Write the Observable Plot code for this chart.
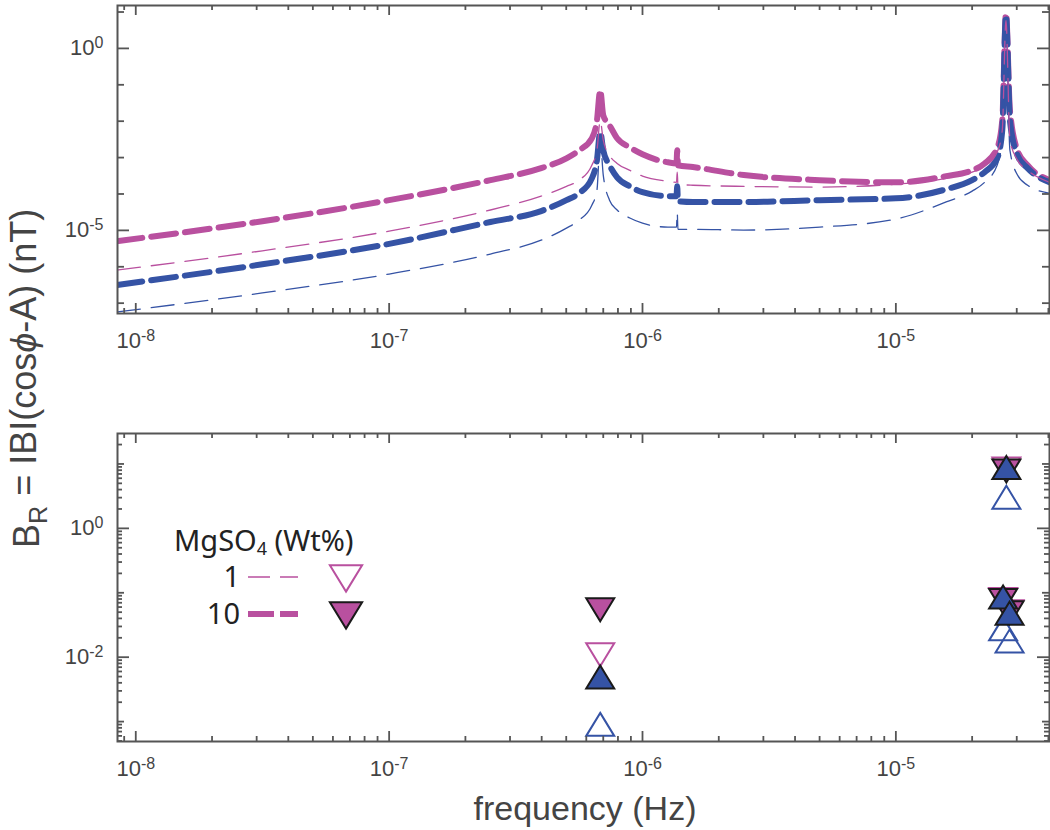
<!DOCTYPE html>
<html><head><meta charset="utf-8">
<script src="https://cdn.jsdelivr.net/npm/d3@7"></script>
<script src="https://cdn.jsdelivr.net/npm/@observablehq/plot@0.6"></script>
<style>
body{margin:0;background:#fff;}
#wrap{position:relative;width:1050px;height:830px;overflow:hidden;background:#fff;}
.panel{position:absolute;left:0;}
#overlay{position:absolute;left:0;top:0;pointer-events:none;}
</style></head><body><div id="wrap"></div>
<script>
// ---------------- data ----------------
const xLimits = [8.47e-9, 4.04e-5];
const yLimitsTop = [5.2e-8, 15.1];
const yLimitsBottom = [4.91e-4, 29.7];

// response curves (frequency in Hz, B_R in nT)
const freq = [8.47e-9, 3.16e-8, 1.0e-7, 2.51e-7, 3.98e-7, 5.01e-7, 5.62e-7, 6.31e-7, 6.61e-7, 6.81e-7,
  7.0e-7, 7.41e-7, 7.94e-7, 8.91e-7, 1.0e-6, 1.26e-6, 1.362e-6, 1.371e-6, 1.380e-6, 1.58e-6,
  2.51e-6, 5.01e-6, 1.0e-5, 1.58e-5, 2.0e-5, 2.24e-5, 2.51e-5, 2.63e-5, 2.72e-5, 2.82e-5,
  3.02e-5, 3.31e-5, 4.04e-5];
const mag10 = [5.07e-6, 1.79e-5, 6.76e-5, 2.40e-4, 5.13e-4, 9.55e-4, 1.58e-3, 3.39e-3, 1.05e-2, 7.08e-2,
  1.45e-2, 7.76e-3, 3.39e-3, 1.91e-3, 1.23e-3, 7.41e-4, 6.92e-4, 1.58e-3, 6.17e-4, 5.50e-4,
  3.31e-4, 2.40e-4, 2.09e-4, 3.09e-4, 4.47e-4, 6.92e-4, 1.82e-3, 1.05e-2, 9.12, 2.0e-2,
  1.58e-3, 6.17e-4, 2.40e-4];
const mag1 = [8.13e-7, 2.75e-6, 9.55e-6, 3.63e-5, 8.71e-5, 1.62e-4, 2.40e-4, 6.17e-4, 1.58e-3, 1.05e-2,
  3.02e-3, 1.15e-3, 6.92e-4, 4.47e-4, 3.09e-4, 2.24e-4, 2.09e-4, 3.98e-4, 1.86e-4, 1.74e-4,
  1.62e-4, 1.55e-4, 1.86e-4, 2.69e-4, 3.98e-4, 5.75e-4, 1.41e-3, 5.62e-3, 5.89, 3.02e-3,
  8.51e-4, 4.47e-4, 2.09e-4];
const blue10 = [3.16e-7, 1.17e-6, 4.27e-6, 1.70e-5, 3.39e-5, 6.76e-5, 1.05e-4, 2.69e-4, 8.51e-4, 5.01e-3,
  1.58e-3, 6.17e-4, 2.88e-4, 1.62e-4, 1.12e-4, 8.71e-5, 8.71e-5, 1.62e-4, 6.31e-5, 6.03e-5,
  6.03e-5, 6.76e-5, 7.59e-5, 1.35e-4, 2.40e-4, 3.98e-4, 9.55e-4, 5.62e-3, 8.13, 1.05e-2,
  1.15e-3, 5.13e-4, 2.09e-4];
const blue1 = [5.75e-8, 1.91e-7, 6.31e-7, 2.24e-6, 5.37e-6, 1.15e-5, 1.91e-5, 4.90e-5, 1.26e-4, 3.02e-3,
  3.31e-4, 6.76e-5, 3.63e-5, 2.19e-5, 1.58e-5, 1.23e-5, 1.23e-5, 3.16e-5, 1.07e-5, 1.07e-5,
  1.02e-5, 1.23e-5, 2.04e-5, 6.03e-5, 1.20e-4, 2.09e-4, 6.17e-4, 3.02e-3, 5.89, 1.58e-3,
  3.31e-4, 1.74e-4, 1.05e-4];

// peak amplitudes (bottom panel)
const markerFreq = [6.81e-7, 2.73e-5, 2.65e-5, 2.81e-5];
const peakMag1   = [0.0125, 9.6, 0.09, 0.058];
const peakMag10  = [0.0624, 8.9, 0.087, 0.056];
const peakBlue1  = [7.9e-4, 2.65, 0.024, 0.0155];
const peakBlue10 = [0.0043, 7.7, 0.075, 0.042];

const labelTicksX = [1e-8, 1e-7, 1e-6, 1e-5];
const labelTicksYTop = [1e-5, 1];
const labelTicksYBottom = [1e-2, 1];
const legendLabels = ["1", "10"];
const legendTitle = "MgSO";

// ---------------- styles ----------------
const MAG = "#B9509F", BLUE = "#3553A5", AX = "#555", TXT = "#444";
const FONT = "'Liberation Sans', Arial, sans-serif";
const W = 1050, H = 350, MT = 5, MB = 37, ML = 117, MR = 1;
const FH = H - MT - MB, FW = W - ML - MR;

const inDom = (v, dom) => v >= dom[0] * 0.9999 && v <= dom[1] * 1.0001;
function logTicks(dom, subs) {
  const out = [];
  for (let k = Math.floor(Math.log10(dom[0])) - 1; k <= Math.ceil(Math.log10(dom[1])); k++)
    for (const s of subs) { const v = s * Math.pow(10, k); if (inDom(v, dom)) out.push(v); }
  return out;
}
const fmt = d => "10^" + Math.round(Math.log10(d));

const triUp = { draw(ctx, size) { const r = Math.sqrt(size / Math.PI); const w = 1.4 * r, h = 2.3 * r;
  ctx.moveTo(0, -2 * h / 3); ctx.lineTo(w, h / 3); ctx.lineTo(-w, h / 3); ctx.closePath(); } };
const triDown = { draw(ctx, size) { const r = Math.sqrt(size / Math.PI); const w = 1.4 * r, h = 2.3 * r;
  ctx.moveTo(0, 2 * h / 3); ctx.lineTo(w, -h / 3); ctx.lineTo(-w, -h / 3); ctx.closePath(); } };

function tickRules(yMajor, yMid, yMinor) {
  const xMaj = labelTicksX.filter(v => inDom(v, xLimits));
  const xMin = logTicks(xLimits, [2, 3, 4, 5, 6, 7, 8, 9]);
  const st = { stroke: AX, strokeWidth: 1.8 };
  const out = [];
  for (const [arr, len] of [[xMaj, 10], [xMin, 5]]) {
    out.push(Plot.ruleX(arr, { ...st, insetTop: FH - len }));
    out.push(Plot.ruleX(arr, { ...st, insetBottom: FH - len }));
  }
  for (const [arr, len] of [[yMajor, 12], [yMid, 7], [yMinor, 5]]) {
    if (!arr.length) continue;
    out.push(Plot.ruleY(arr, { ...st, insetRight: FW - len }));
    out.push(Plot.ruleY(arr, { ...st, insetLeft: FW - len }));
  }
  return out;
}

function makePanel(yDom, yLabels, yMid, yMinor, marks) {
  return Plot.plot({
    width: W, height: H, marginTop: MT, marginBottom: MB, marginLeft: ML, marginRight: MR,
    x: { type: "log", domain: xLimits, axis: null },
    y: { type: "log", domain: yDom, axis: null },
    style: { fontFamily: FONT, fontSize: "22px", color: TXT, background: "transparent", overflow: "visible" },
    marks: [
      ...marks,
      Plot.frame({ stroke: AX, strokeWidth: 2 }),
      ...tickRules(yLabels, yMid, yMinor),
      Plot.axisX(labelTicksX, { tickSize: 0, tickPadding: 19, tickFormat: fmt, label: null }),
      Plot.axisY(yLabels, { tickSize: 0, tickPadding: 14, tickFormat: fmt, label: null })
    ]
  });
}

function supify(svg) {
  d3.select(svg).selectAll('g[aria-label$="tick label"] text').each(function () {
    const t = this.textContent; const parts = t.split("^"); if (parts.length < 2) return;
    const s = d3.select(this); s.text(null);
    s.style("font-size", "22px").style("font-family", FONT).style("fill", TXT);
    s.append("tspan").text(parts[0]);
    s.append("tspan").attr("dy", "-0.45em").style("font-size", "16px").text(parts[1]);
  });
}

// ---------------- top panel ----------------
const rows = freq.map((f, i) => ({ f, m10: mag10[i], m1: mag1[i], b10: blue10[i], b1: blue1[i] }));
const lineOpt = (key, color, thick) => Plot.line(rows, {
  x: "f", y: key, stroke: color, curve: "monotone-x", clip: true,
  strokeWidth: thick ? 6 : 1.3, strokeDasharray: thick ? "25,9" : "23,11"
});
const topMid = logTicks(yLimitsTop, [1]).filter(v => !labelTicksYTop.some(t => Math.abs(t - v) / t < 1e-6));
const topPlot = makePanel(yLimitsTop, labelTicksYTop, topMid, [], [
  lineOpt("m10", MAG, true),
  lineOpt("b10", BLUE, true),
  lineOpt("b1", BLUE, false),
  lineOpt("m1", MAG, false)
]);
topPlot.classList.add("panel"); topPlot.style.top = "0px";

// ---------------- bottom panel ----------------
const peaks = markerFreq.map((f, i) => ({ f, m1: peakMag1[i], m10: peakMag10[i], b1: peakBlue1[i], b10: peakBlue10[i] }));
const botMid = logTicks(yLimitsBottom, [1]).filter(v => !labelTicksYBottom.some(t => Math.abs(t - v) / t < 1e-6));
const botMinor = logTicks(yLimitsBottom, [2, 3, 4, 5, 6, 7, 8, 9]);
const bottomPlot = makePanel(yLimitsBottom, labelTicksYBottom, botMid, botMinor, [
  Plot.dot(peaks, { x: "f", y: "m1", symbol: triDown, r: 10, fill: "none", stroke: MAG, strokeWidth: 2 }),
  Plot.dot(peaks, { x: "f", y: "b1", symbol: triUp, r: 10, fill: "none", stroke: BLUE, strokeWidth: 2 }),
  Plot.dot(peaks, { x: "f", y: "m10", symbol: triDown, r: 10, fill: MAG, stroke: "#1a1a1a", strokeWidth: 2 }),
  Plot.dot(peaks, { x: "f", y: "b10", symbol: triUp, r: 10, fill: BLUE, stroke: "#1a1a1a", strokeWidth: 2 })
]);
bottomPlot.classList.add("panel"); bottomPlot.style.top = "428px";

const wrap = document.getElementById("wrap");
wrap.appendChild(topPlot); wrap.appendChild(bottomPlot);
supify(topPlot); supify(bottomPlot);

// ---------------- titles & legend overlay ----------------
const ov = d3.select(wrap).append("svg").attr("id", "overlay").attr("width", W).attr("height", 830);
ov.append("text").attr("x", 585).attr("y", 820).attr("text-anchor", "middle")
  .attr("font-family", FONT).attr("font-size", 34).attr("fill", TXT)
  .text("frequency (Hz)");
const yt = ov.append("text").attr("transform", "translate(39,548) rotate(-90)").attr("text-anchor", "start")
  .attr("font-family", FONT).attr("font-size", 36).attr("fill", TXT);
yt.append("tspan").text("B");
yt.append("tspan").attr("font-size", "0.7em").attr("dy", "0.3em").text("R");
yt.append("tspan").attr("dy", "-0.3em").text(" = IBI(cos");
yt.append("tspan").attr("font-style", "italic").text("ϕ");
yt.append("tspan").text("-A) (nT)");

const lg = ov.append("g").attr("font-family", "'Noto Sans', 'Open Sans', sans-serif").attr("fill", "#222");
const lt = lg.append("text").attr("x", 174).attr("y", 551).attr("font-size", 29);
lt.append("tspan").text(legendTitle);
lt.append("tspan").attr("font-size", "0.62em").attr("dy", "0.25em").text("4");
lt.append("tspan").attr("dy", "-0.16em").text(" (Wt%)");
const rowsY = [577, 614];
legendLabels.forEach((lab, i) => {
  lg.append("text").attr("x", 240).attr("y", rowsY[i] + 10).attr("text-anchor", "end").attr("font-size", 29).text(lab);
  lg.append("line").attr("x1", 248).attr("x2", 298).attr("y1", rowsY[i]).attr("y2", rowsY[i])
    .attr("stroke", MAG).attr("stroke-width", i ? 6 : 1.5).attr("stroke-dasharray", i ? "26,6" : "22,10");
  const sym = d3.path(); triDown.draw(sym, Math.PI * 11.5 * 11.5);
  lg.append("path").attr("d", sym.toString()).attr("transform", `translate(346,${rowsY[i] - 3})`)
    .attr("fill", i ? MAG : "none").attr("stroke", i ? "#1a1a1a" : MAG).attr("stroke-width", 2);
});
</script></body></html>
